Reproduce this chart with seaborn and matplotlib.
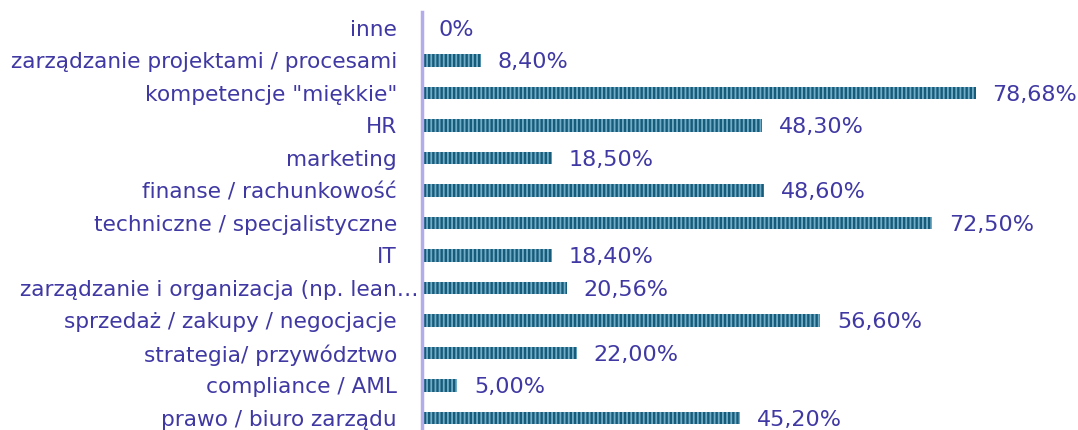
import matplotlib
matplotlib.use("Agg")
import matplotlib.pyplot as plt
import matplotlib.transforms as mtransforms
import pandas as pd
import seaborn as sns

# chart data, top to bottom
categories = [
    "inne",
    "zarządzanie projektami / procesami",
    "kompetencje \"miękkie\"",
    "HR",
    "marketing",
    "finanse / rachunkowość",
    "techniczne / specjalistyczne",
    "IT",
    "zarządzanie i organizacja (np. lean…",
    "sprzedaż / zakupy / negocjacje",
    "strategia/ przywództwo",
    "compliance / AML",
    "prawo / biuro zarządu",
]
values = [0, 8.40, 78.68, 48.30, 18.50, 48.60, 72.50, 18.40, 20.56, 56.60, 22.00, 5.00, 45.20]

df = pd.DataFrame({"kategoria": categories, "udzial": values})

TEXT = "#4039a3"
BAR = "#175b7a"
STRIPE = "#72adc8"

sns.set_style("white")
plt.rcParams["font.family"] = ["DejaVu Sans"]
plt.rcParams["hatch.linewidth"] = 1.3

fig = plt.figure(figsize=(10.78, 4.30), dpi=100)
ax = fig.add_axes([0.3915, 0.0, 0.6085, 0.972])

sns.barplot(data=df, x="udzial", y="kategoria", orient="h", color=BAR,
            width=0.38, ax=ax, saturation=1)
for p in ax.patches:
    p.set_facecolor(BAR)
    p.set_edgecolor(STRIPE)
    p.set_hatch("||||")
    p.set_linewidth(0)

# value labels with decimal comma
for i, v in enumerate(values):
    txt = "0%" if v == 0 else f"{v:.2f}%".replace(".", ",")
    ax.annotate(txt, xy=(v, i), xytext=(12, 0), textcoords="offset points",
                ha="left", va="center_baseline", fontsize=16, color=TEXT)

ax.set_xlim(0, 93.2)
ax.set_ylim(12.37, -0.49)
ax.set_xlabel("")
ax.set_ylabel("")
ax.set_xticks([])
ax.tick_params(axis="y", length=0, pad=18, labelsize=15.6, labelcolor=TEXT)
for s in ["top", "right", "bottom"]:
    ax.spines[s].set_visible(False)
ax.spines["left"].set_color("#b3acea")
ax.spines["left"].set_linewidth(2.5)

# the truncated label sits closer to the axis in the original
lab = ax.get_yticklabels()[8]
lab.set_transform(lab.get_transform() + mtransforms.ScaledTranslation(0.21, 0, fig.dpi_scale_trans))

fig.savefig("out.png", dpi=100)
